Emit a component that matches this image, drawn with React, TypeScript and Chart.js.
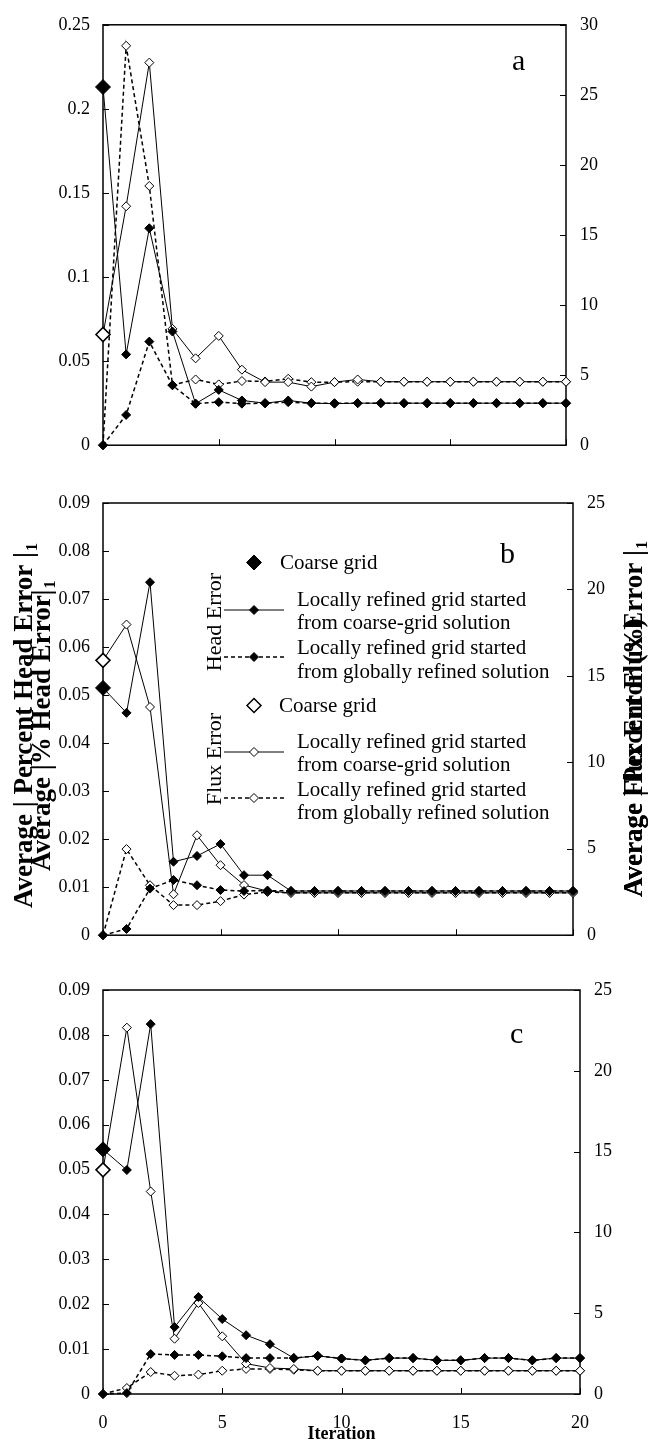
import React, { useEffect, useRef } from 'react';
import { Chart, registerables } from 'chart.js';

Chart.register(...registerables);

const SERIF = "'Liberation Serif', 'Times New Roman', serif";

// ---------- data ----------
const iterations = [0, 1, 2, 3, 4, 5, 6, 7, 8, 9, 10, 11, 12, 13, 14, 15, 16, 17, 18, 19, 20];

// panel a
const aHeadCoarse = [0.213];
const aHeadFromCoarse = [0.213, 0.054, 0.129, 0.0676, 0.0247, 0.0329, 0.0266, 0.025, 0.0266, 0.025, 0.0247, 0.025, 0.025, 0.025, 0.025, 0.025, 0.025, 0.025, 0.025, 0.025, 0.025];
const aHeadFromGlobal = [0, 0.018, 0.0616, 0.0356, 0.0247, 0.0256, 0.0247, 0.025, 0.0256, 0.025, 0.025, 0.025, 0.025, 0.025, 0.025, 0.025, 0.025, 0.025, 0.025, 0.025, 0.025];
const aFluxCoarse = [7.9];
const aFluxFromCoarse = [7.9, 17.05, 27.3, 8.3, 6.2, 7.8, 5.39, 4.5, 4.5, 4.18, 4.5, 4.69, 4.53, 4.53, 4.53, 4.53, 4.53, 4.53, 4.53, 4.53, 4.53];
const aFluxFromGlobal = [0, 28.5, 18.5, 4.3, 4.69, 4.34, 4.58, 4.55, 4.74, 4.5, 4.5, 4.53, 4.53, 4.53, 4.53, 4.53, 4.53, 4.53, 4.53, 4.53, 4.53];

// panel b
const bHeadCoarse = [0.0515];
const bHeadFromCoarse = [0.0515, 0.0463, 0.0735, 0.0153, 0.0165, 0.019, 0.0125, 0.0125, 0.0092, 0.0092, 0.0092, 0.0092, 0.0092, 0.0092, 0.0092, 0.0092, 0.0092, 0.0092, 0.0092, 0.0092, 0.0092];
const bHeadFromGlobal = [0, 0.0013, 0.0097, 0.0115, 0.0104, 0.0094, 0.0092, 0.0093, 0.0092, 0.0092, 0.0092, 0.0092, 0.0092, 0.0092, 0.0092, 0.0092, 0.0092, 0.0092, 0.0092, 0.0092, 0.0092];
const bFluxCoarse = [15.9];
const bFluxFromCoarse = [15.9, 17.97, 13.2, 2.37, 5.78, 4.05, 2.9, 2.55, 2.45, 2.45, 2.45, 2.45, 2.45, 2.45, 2.45, 2.45, 2.45, 2.45, 2.45, 2.45, 2.45];
const bFluxFromGlobal = [0, 4.98, 2.89, 1.74, 1.74, 1.97, 2.35, 2.5, 2.45, 2.45, 2.45, 2.45, 2.45, 2.45, 2.45, 2.45, 2.45, 2.45, 2.45, 2.45, 2.45];

// panel c
const cHeadCoarse = [0.0545];
const cHeadFromCoarse = [0.0545, 0.0499, 0.0824, 0.0149, 0.0216, 0.0167, 0.0131, 0.0111, 0.008, 0.0085, 0.0079, 0.0075, 0.008, 0.008, 0.0075, 0.0075, 0.008, 0.008, 0.0075, 0.008, 0.008];
const cHeadFromGlobal = [0, 0.0002, 0.0089, 0.0087, 0.0087, 0.0084, 0.008, 0.008, 0.008, 0.0085, 0.0079, 0.0075, 0.008, 0.008, 0.0075, 0.0075, 0.008, 0.008, 0.0075, 0.008, 0.008];
const cFluxCoarse = [13.87];
const cFluxFromCoarse = [13.87, 22.67, 12.53, 3.42, 5.63, 3.57, 1.88, 1.61, 1.55, 1.44, 1.44, 1.44, 1.44, 1.44, 1.44, 1.44, 1.44, 1.44, 1.44, 1.44, 1.44];
const cFluxFromGlobal = [0, 0.37, 1.36, 1.13, 1.2, 1.44, 1.55, 1.55, 1.5, 1.44, 1.44, 1.44, 1.44, 1.44, 1.44, 1.44, 1.44, 1.44, 1.44, 1.44, 1.44];

// axis ranges / ticks
const xTicks = [0, 5, 10, 15, 20];
const aLeftMax = 0.25, aLeftStep = 0.05, aRightMax = 30, aRightStep = 5;
const bLeftMax = 0.09, bLeftStep = 0.01, bRightMax = 25, bRightStep = 5;
const cLeftMax = 0.09, cLeftStep = 0.01, cRightMax = 25, cRightStep = 5;

// texts
const legendCoarse = 'Coarse grid';
const legendFromCoarse = ['Locally refined grid started', 'from coarse-grid solution'];
const legendFromGlobal = ['Locally refined grid started', 'from globally refined solution'];
const headGroup = 'Head Error';
const fluxGroup = 'Flux Error';
const leftTitle1 = 'Average | Percent Head Error |';
const leftTitle2 = 'Average |% Head Error|';
const rightTitle1 = 'Average | Percent Flux Error |';
const rightTitle2 = 'Average Flux Error (%)';
const xTitle = 'Iteration';

// ---------- layout ----------
const PAGE_W = 648;
const LEFT_AXIS_W = 103;

type Panel = {
  letter: string;
  canvasTop: number;
  canvasH: number;
  areaTop: number;
  areaBottom: number;
  areaRight: number;
  leftMax: number; leftStep: number; rightMax: number; rightStep: number;
  headCoarse: number[]; headFromCoarse: number[]; headFromGlobal: number[];
  fluxCoarse: number[]; fluxFromCoarse: number[]; fluxFromGlobal: number[];
  letterX: number; letterY: number;
  showX: boolean;
  legend: boolean;
};

const panels: Panel[] = [
  {
    letter: 'a', canvasTop: 0, canvasH: 470, areaTop: 17, areaBottom: 449, areaRight: 566,
    leftMax: aLeftMax, leftStep: aLeftStep, rightMax: aRightMax, rightStep: aRightStep,
    headCoarse: aHeadCoarse, headFromCoarse: aHeadFromCoarse, headFromGlobal: aHeadFromGlobal,
    fluxCoarse: aFluxCoarse, fluxFromCoarse: aFluxFromCoarse, fluxFromGlobal: aFluxFromGlobal,
    letterX: 512, letterY: 70, showX: false, legend: false,
  },
  {
    letter: 'b', canvasTop: 470, canvasH: 490, areaTop: 503, areaBottom: 936, areaRight: 573,
    leftMax: bLeftMax, leftStep: bLeftStep, rightMax: bRightMax, rightStep: bRightStep,
    headCoarse: bHeadCoarse, headFromCoarse: bHeadFromCoarse, headFromGlobal: bHeadFromGlobal,
    fluxCoarse: bFluxCoarse, fluxFromCoarse: bFluxFromCoarse, fluxFromGlobal: bFluxFromGlobal,
    letterX: 500, letterY: 563, showX: false, legend: true,
  },
  {
    letter: 'c', canvasTop: 960, canvasH: 485, areaTop: 990, areaBottom: 1394, areaRight: 580,
    leftMax: cLeftMax, leftStep: cLeftStep, rightMax: cRightMax, rightStep: cRightStep,
    headCoarse: cHeadCoarse, headFromCoarse: cHeadFromCoarse, headFromGlobal: cHeadFromGlobal,
    fluxCoarse: cFluxCoarse, fluxFromCoarse: cFluxFromCoarse, fluxFromGlobal: cFluxFromGlobal,
    letterX: 510, letterY: 1043, showX: true, legend: false,
  },
];

const DASH = [4, 3];

function diamond(ctx: CanvasRenderingContext2D, x: number, y: number, r: number, filled: boolean, lw: number) {
  ctx.beginPath();
  ctx.moveTo(x, y - r);
  ctx.lineTo(x + r, y);
  ctx.lineTo(x, y + r);
  ctx.lineTo(x - r, y);
  ctx.closePath();
  ctx.fillStyle = filled ? '#000' : '#fff';
  ctx.fill();
  ctx.lineWidth = lw;
  ctx.strokeStyle = '#000';
  ctx.stroke();
}

function vText(ctx: CanvasRenderingContext2D, text: string, sub: string, x: number, y: number, font: string, subFont: string) {
  ctx.save();
  ctx.translate(x, y);
  ctx.rotate(-Math.PI / 2);
  ctx.font = font;
  ctx.textAlign = 'left';
  ctx.textBaseline = 'alphabetic';
  ctx.fillStyle = '#000';
  ctx.fillText(text, 0, 0);
  if (sub) {
    const w = ctx.measureText(text).width;
    ctx.font = subFont;
    ctx.fillText(sub, w + 1, 5);
  }
  ctx.restore();
}

function drawLegend(ctx: CanvasRenderingContext2D, off: number) {
  const font = `21px ${SERIF}`;
  ctx.save();
  ctx.fillStyle = '#000';
  ctx.font = font;
  ctx.textBaseline = 'middle';
  ctx.textAlign = 'left';
  const mx = 254;
  // head coarse
  diamond(ctx, mx, 562.5 - off, 7.5, true, 1);
  ctx.fillStyle = '#000';
  ctx.fillText(legendCoarse, 280, 563 - off);
  // head solid
  const rows = [
    { y: 610, dash: false, filled: true, t: legendFromCoarse, ty: [600, 623] },
    { y: 657, dash: true, filled: true, t: legendFromGlobal, ty: [648.5, 672.5] },
    { y: 752, dash: false, filled: false, t: legendFromCoarse, ty: [742, 765] },
    { y: 798, dash: true, filled: false, t: legendFromGlobal, ty: [790, 813.5] },
  ];
  for (const r of rows) {
    ctx.beginPath();
    ctx.setLineDash(r.dash ? DASH : []);
    ctx.lineWidth = r.dash ? 1.5 : 1;
    ctx.strokeStyle = '#000';
    ctx.moveTo(224, r.y - off);
    ctx.lineTo(284, r.y - off);
    ctx.stroke();
    ctx.setLineDash([]);
    diamond(ctx, mx, r.y - off, 4.5, r.filled, 1);
    ctx.fillStyle = '#000';
    ctx.font = font;
    ctx.fillText(r.t[0], 297, r.ty[0] - off);
    ctx.fillText(r.t[1], 297, r.ty[1] - off);
  }
  diamond(ctx, mx, 705.5 - off, 7, false, 1.5);
  ctx.fillStyle = '#000';
  ctx.font = font;
  ctx.fillText(legendCoarse, 279, 706 - off);
  // group labels
  const gfont = `22px ${SERIF}`;
  ctx.save();
  ctx.translate(221, 622 - off);
  ctx.rotate(-Math.PI / 2);
  ctx.font = gfont;
  ctx.textAlign = 'center';
  ctx.textBaseline = 'alphabetic';
  ctx.fillText(headGroup, 0, 0);
  ctx.restore();
  ctx.save();
  ctx.translate(221, 759 - off);
  ctx.rotate(-Math.PI / 2);
  ctx.font = gfont;
  ctx.textAlign = 'center';
  ctx.textBaseline = 'alphabetic';
  ctx.fillText(fluxGroup, 0, 0);
  ctx.restore();
  // axis titles
  const tf = `bold 27px ${SERIF}`;
  const sf = `bold 16px ${SERIF}`;
  vText(ctx, leftTitle1, '1', 32, 908 - off, tf, sf);
  vText(ctx, leftTitle2, '1', 50, 871 - off, tf, sf);
  vText(ctx, rightTitle1, '1', 642, 897 - off, tf, sf);
  vText(ctx, rightTitle2, '', 642, 897 - off, tf, sf);
  ctx.restore();
}

function PanelChart({ p }: { p: Panel }) {
  const ref = useRef<HTMLCanvasElement | null>(null);
  useEffect(() => {
    const canvas = ref.current;
    if (!canvas) return;
    const pts = (arr: number[]) => arr.map((v, i) => ({ x: iterations[i], y: v }));
    const off = p.canvasTop;
    const fmt = (v: any) => String(Number(Number(v).toFixed(4)));

    const framePlugin = {
      id: 'frame' + p.letter,
      beforeDatasetsDraw(chart: any) {
        const ctx: CanvasRenderingContext2D = chart.ctx;
        const a = chart.chartArea;
        const yL = chart.scales.yL;
        const yR = chart.scales.yR;
        const xs = chart.scales.x;
        ctx.save();
        ctx.strokeStyle = '#000';
        ctx.lineWidth = 1.5;
        ctx.strokeRect(a.left, a.top, a.right - a.left, a.bottom - a.top);
        ctx.lineWidth = 1;
        ctx.beginPath();
        const tl = 6;
        for (const t of yL.ticks) {
          const y = Math.round(yL.getPixelForValue(t.value)) + 0.5;
          ctx.moveTo(a.left, y);
          ctx.lineTo(a.left + tl, y);
        }
        for (const t of yR.ticks) {
          const y = Math.round(yR.getPixelForValue(t.value)) + 0.5;
          ctx.moveTo(a.right, y);
          ctx.lineTo(a.right - tl, y);
        }
        for (const v of xTicks) {
          const x = Math.round(xs.getPixelForValue(v)) + 0.5;
          ctx.moveTo(x, a.bottom);
          ctx.lineTo(x, a.bottom - tl);
        }
        ctx.stroke();
        ctx.restore();
      },
      afterDraw(chart: any) {
        const ctx: CanvasRenderingContext2D = chart.ctx;
        ctx.save();
        ctx.fillStyle = '#000';
        ctx.font = `30px ${SERIF}`;
        ctx.textAlign = 'left';
        ctx.textBaseline = 'alphabetic';
        ctx.fillText(p.letter, p.letterX, p.letterY - off);
        if (p.showX) {
          const a = chart.chartArea;
          ctx.font = `bold 18px ${SERIF}`;
          ctx.textAlign = 'center';
          ctx.fillText(xTitle, (a.left + a.right) / 2, 1439 - off);
        }
        ctx.restore();
        if (p.legend) drawLegend(ctx, off);
      },
    };

    const small = 4.5;
    const big = 7;
    const chart = new Chart(canvas, {
      type: 'line',
      data: {
        datasets: [
          {
            label: 'Head Error: Coarse grid', data: pts(p.headCoarse), yAxisID: 'yL', showLine: false,
            pointStyle: 'rectRot', pointRadius: big + 0.5, pointBackgroundColor: '#000', pointBorderColor: '#000', pointBorderWidth: 1,
            borderColor: '#000', backgroundColor: '#000', clip: false,
          },
          {
            label: 'Flux Error: Coarse grid', data: pts(p.fluxCoarse), yAxisID: 'yR', showLine: false,
            pointStyle: 'rectRot', pointRadius: big, pointBackgroundColor: '#fff', pointBorderColor: '#000', pointBorderWidth: 1.6,
            borderColor: '#000', backgroundColor: '#fff', clip: false,
          },
          {
            label: 'Head Error: ' + legendFromCoarse.join(' '), data: pts(p.headFromCoarse), yAxisID: 'yL',
            borderColor: '#000', borderWidth: 1, tension: 0,
            pointStyle: 'rectRot', pointRadius: small, pointBackgroundColor: '#000', pointBorderColor: '#000', pointBorderWidth: 1, clip: false,
          },
          {
            label: 'Head Error: ' + legendFromGlobal.join(' '), data: pts(p.headFromGlobal), yAxisID: 'yL',
            borderColor: '#000', borderWidth: 1.5, borderDash: DASH, tension: 0,
            pointStyle: 'rectRot', pointRadius: small, pointBackgroundColor: '#000', pointBorderColor: '#000', pointBorderWidth: 1, clip: false,
          },
          {
            label: 'Flux Error: ' + legendFromCoarse.join(' '), data: pts(p.fluxFromCoarse), yAxisID: 'yR',
            borderColor: '#000', borderWidth: 1, tension: 0,
            pointStyle: 'rectRot', pointRadius: small, pointBackgroundColor: '#fff', pointBorderColor: '#000', pointBorderWidth: 1, clip: false,
          },
          {
            label: 'Flux Error: ' + legendFromGlobal.join(' '), data: pts(p.fluxFromGlobal), yAxisID: 'yR',
            borderColor: '#000', borderWidth: 1.5, borderDash: DASH, tension: 0,
            pointStyle: 'rectRot', pointRadius: small, pointBackgroundColor: '#fff', pointBorderColor: '#000', pointBorderWidth: 1, clip: false,
          },
        ],
      },
      options: {
        responsive: false,
        animation: false,
        devicePixelRatio: 1,
        layout: { padding: { left: 0, right: 0, top: p.areaTop - off, bottom: 0 } },
        font: { family: SERIF, size: 18 },
        color: '#000',
        plugins: { legend: { display: false }, tooltip: { enabled: false } },
        scales: {
          x: {
            type: 'linear', min: 0, max: 20,
            grid: { display: false, drawTicks: false },
            border: { display: false },
            ticks: {
              display: p.showX, stepSize: 5, padding: 18, color: '#000',
              font: { family: SERIF, size: 18 }, callback: fmt,
            },
            afterFit: (s: any) => { s.height = p.canvasTop + p.canvasH - p.areaBottom; },
          },
          yL: {
            type: 'linear', position: 'left', min: 0, max: p.leftMax,
            grid: { display: false, drawTicks: false },
            border: { display: false },
            ticks: { stepSize: p.leftStep, padding: 13, color: '#000', font: { family: SERIF, size: 18 }, callback: fmt },
            afterFit: (s: any) => { s.width = LEFT_AXIS_W; },
          },
          yR: {
            type: 'linear', position: 'right', min: 0, max: p.rightMax,
            grid: { display: false, drawTicks: false },
            border: { display: false },
            ticks: { stepSize: p.rightStep, padding: 14, color: '#000', font: { family: SERIF, size: 18 }, callback: fmt },
            afterFit: (s: any) => { s.width = PAGE_W - p.areaRight; },
          },
        },
      } as any,
      plugins: [framePlugin],
    });
    return () => chart.destroy();
  }, [p]);
  return (
    <canvas
      ref={ref}
      width={PAGE_W}
      height={p.canvasH}
      style={{ position: 'absolute', left: 0, top: p.canvasTop, width: PAGE_W, height: p.canvasH }}
    />
  );
}

export default function App() {
  return (
    <div style={{ position: 'absolute', left: 0, top: 0, width: PAGE_W, height: 1445, background: '#fff', overflow: 'hidden' }}>
      {panels.map((p) => (
        <PanelChart key={p.letter} p={p} />
      ))}
    </div>
  );
}
